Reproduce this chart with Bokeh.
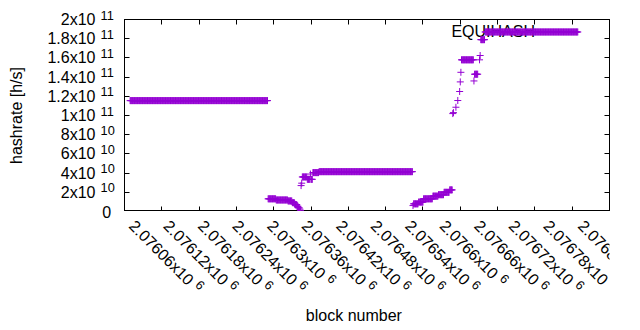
import math
import numpy as np
from bokeh.plotting import figure
from bokeh.layouts import row, column
from bokeh.models import Range1d, FixedTicker, LinearAxis, Label, CustomJSTickFormatter
from bokeh.embed import file_html
from bokeh.resources import INLINE

# ---- data: runs of consecutive blocks sharing one hashrate value (h/s) ----
run_start = [2076069, 2076291, 2076304, 2076323, 2076330, 2076334, 2076338, 2076340, 2076342, 2076343,
             2076344, 2076345, 2076346, 2076354, 2076359, 2076360, 2076363, 2076373,
             2076524, 2076525, 2076533, 2076541, 2076556, 2076565, 2076574, 2076583,
             2076588, 2076589, 2076593, 2076596, 2076599, 2076600, 2076601,
             2076602, 2076622, 2076623, 2076631, 2076632, 2076633, 2076640]
run_end = [2076290, 2076303, 2076322, 2076329, 2076333, 2076337, 2076339, 2076341, 2076342, 2076343,
           2076344, 2076345, 2076353, 2076358, 2076359, 2076362, 2076372, 2076523,
           2076524, 2076532, 2076540, 2076555, 2076564, 2076573, 2076582, 2076587,
           2076588, 2076589, 2076593, 2076596, 2076599, 2076600, 2076601,
           2076621, 2076622, 2076628, 2076631, 2076632, 2076639, 2076789]
run_value = [1.155e11, 1.32e10, 1.2e10, 1.1e10, 0.92e10, 0.72e10, 0.54e10, 0.38e10, 0.25e10, 0.12e10,
             2.7e10, 2.95e10, 3.6e10, 3.35e10, 3.9e10, 3.35e10, 4.05e10, 4.15e10,
             0.62e10, 0.8e10, 0.98e10, 1.32e10, 1.6e10, 1.75e10, 2.0e10, 2.25e10,
             1.02e11, 1.03e11, 1.086e11, 1.156e11, 1.25e11, 1.35e11, 1.45e11,
             1.58e11, 1.36e11, 1.43e11, 1.58e11, 1.625e11, 1.79e11, 1.87e11]

series_name = "EQUIHASH"
x_title = "block number"
y_title = "hashrate [h/s]"

x_ticks = [2076060, 2076120, 2076180, 2076240, 2076300, 2076360, 2076420,
           2076480, 2076540, 2076600, 2076660, 2076720, 2076780, 2076840]
x_tick_mantissa = ["2.07606", "2.07612", "2.07618", "2.07624", "2.0763", "2.07636", "2.07642",
                   "2.07648", "2.07654", "2.0766", "2.07666", "2.07672", "2.07678", "2.07684"]
x_tick_exponent = ["6"] * 14

y_ticks = [0, 2e10, 4e10, 6e10, 8e10, 1e11, 1.2e11, 1.4e11, 1.6e11, 1.8e11, 2e11]
y_tick_mantissa = ["0", "2", "4", "6", "8", "1", "1.2", "1.4", "1.6", "1.8", "2"]
y_tick_exponent = ["", "10", "10", "10", "10", "11", "11", "11", "11", "11", "11"]

# ---- expand runs into one point per block ----
blocks = np.concatenate([np.arange(s, e + 1) for s, e in zip(run_start, run_end)])
rates = np.concatenate([np.full(e - s + 1, v) for s, e, v in zip(run_start, run_end, run_value)])

# ---- style / layout constants (pixels) ----
FONT = "Liberation Sans"
MAIN = 16.0
SUP = 12.8
COLOR = "#9400D3"
W, H = 640, 330
LW = 116                  # width of the left label strip
FL, FR, FT, FB = 124, 609, 19, 211   # plot frame edges on the page
FW, FH = FR - FL, FB - FT

x0, x1 = x_ticks[0], x_ticks[-1]
y0, y1 = y_ticks[0], y_ticks[-1]
sx = (x1 - x0) / FW       # data per pixel
sy = (y1 - y0) / FH


def txt(**kw):
    kw.setdefault("text_font", FONT)
    kw.setdefault("text_color", "black")
    return Label(**kw)


def bare(fig):
    fig.background_fill_color = "white"
    fig.border_fill_color = "white"
    fig.outline_line_color = None
    fig.grid.visible = False
    return fig


# ---- main plot ----
p = figure(width=W - LW, height=FB, output_backend="svg", toolbar_location=None,
           x_range=Range1d(x0, x1), y_range=Range1d(y0, y1),
           min_border_left=FL - LW, min_border_right=W - FR, min_border_top=FT, min_border_bottom=0)
p.background_fill_color = "white"
p.border_fill_color = "white"
p.outline_line_color = "black"
p.outline_line_width = 1
p.grid.visible = False

blank = CustomJSTickFormatter(code="return ''")


def tick_axis(ax, ticks):
    ax.ticker = FixedTicker(ticks=ticks)
    ax.formatter = blank
    ax.major_tick_in = 5
    ax.major_tick_out = 0
    ax.minor_tick_line_color = None
    ax.axis_line_color = "black"
    ax.major_tick_line_color = "black"
    ax.major_label_standoff = 0
    return ax


tick_axis(p.xaxis[0], x_ticks)
tick_axis(p.yaxis[0], y_ticks)
p.add_layout(tick_axis(LinearAxis(), x_ticks), "above")
p.add_layout(tick_axis(LinearAxis(), y_ticks), "right")

p.add_layout(txt(x=x1, y=y1, text=series_name, text_align="right", text_baseline="middle",
                 x_offset=-74.5, y_offset=-12.2, text_font_size=f"{MAIN}px", level="underlay"))

p.scatter(blocks, rates, marker="cross", size=7, line_color=COLOR, line_width=1)

# ---- left strip: y tick labels and y title (same y scale as the plot) ----
left = bare(figure(width=LW, height=H, output_backend="svg", toolbar_location=None,
                   x_range=Range1d(0, LW),
                   y_range=Range1d(y0 - (H - FB) * sy, y1 + FT * sy),
                   x_axis_location=None, y_axis_location=None, min_border=0))
RAISE = 4.5
for t, m, e in zip(y_ticks, y_tick_mantissa, y_tick_exponent):
    if e:
        left.add_layout(txt(x=95, y=t, text=m + "x10", text_align="right", text_baseline="middle",
                            text_font_size=f"{MAIN}px"))
        left.add_layout(txt(x=100.1, y=t, text=e, text_align="left", text_baseline="middle",
                            y_offset=RAISE, text_font_size=f"{SUP}px"))
    else:
        left.add_layout(txt(x=110.7, y=t, text=m, text_align="right", text_baseline="middle",
                            text_font_size=f"{MAIN}px"))
left.add_layout(txt(x=16.2, y=(y0 + y1) / 2, text=y_title, angle=math.pi / 2, text_align="center",
                    text_baseline="middle", text_font_size=f"{MAIN}px"))

# ---- bottom strip: rotated x tick labels and x title (same x scale as the plot) ----
bottom = bare(figure(width=W - LW, height=H - FB, output_backend="svg", toolbar_location=None,
                     x_range=Range1d(x0 - (FL - LW) * sx, x1 + (W - FR) * sx),
                     y_range=Range1d(-(H - FB), 0),
                     x_axis_location=None, y_axis_location=None, min_border=0))
ADV = {c: 0.556 for c in "0123456789"}
ADV.update({".": 0.278, "x": 0.5})
ANG = -math.pi / 4
c45 = math.cos(math.pi / 4)
DROP = 11.7
GAP = 5.0
for t, m, e in zip(x_ticks, x_tick_mantissa, x_tick_exponent):
    main = m + "x10"
    bottom.add_layout(txt(x=t, y=-DROP, text=main, angle=ANG, text_align="left",
                          text_baseline="middle", text_font_size=f"{MAIN}px"))
    along = sum(ADV[c] for c in main) * MAIN + GAP
    dx = c45 * (along + RAISE)
    dy = c45 * (along - RAISE)
    bottom.add_layout(txt(x=t, y=-DROP, text=e, angle=ANG, text_align="left",
                          text_baseline="middle", x_offset=dx, y_offset=-dy,
                          text_font_size=f"{SUP}px"))
bottom.add_layout(txt(x=(x0 + x1) / 2, y=-103.5, text=x_title, text_align="center",
                      text_baseline="middle", x_offset=-2.5, text_font_size=f"{MAIN}px"))

layout = row(left, column(p, bottom, spacing=0), spacing=0)
open("out.html", "w").write(file_html(layout, INLINE))
